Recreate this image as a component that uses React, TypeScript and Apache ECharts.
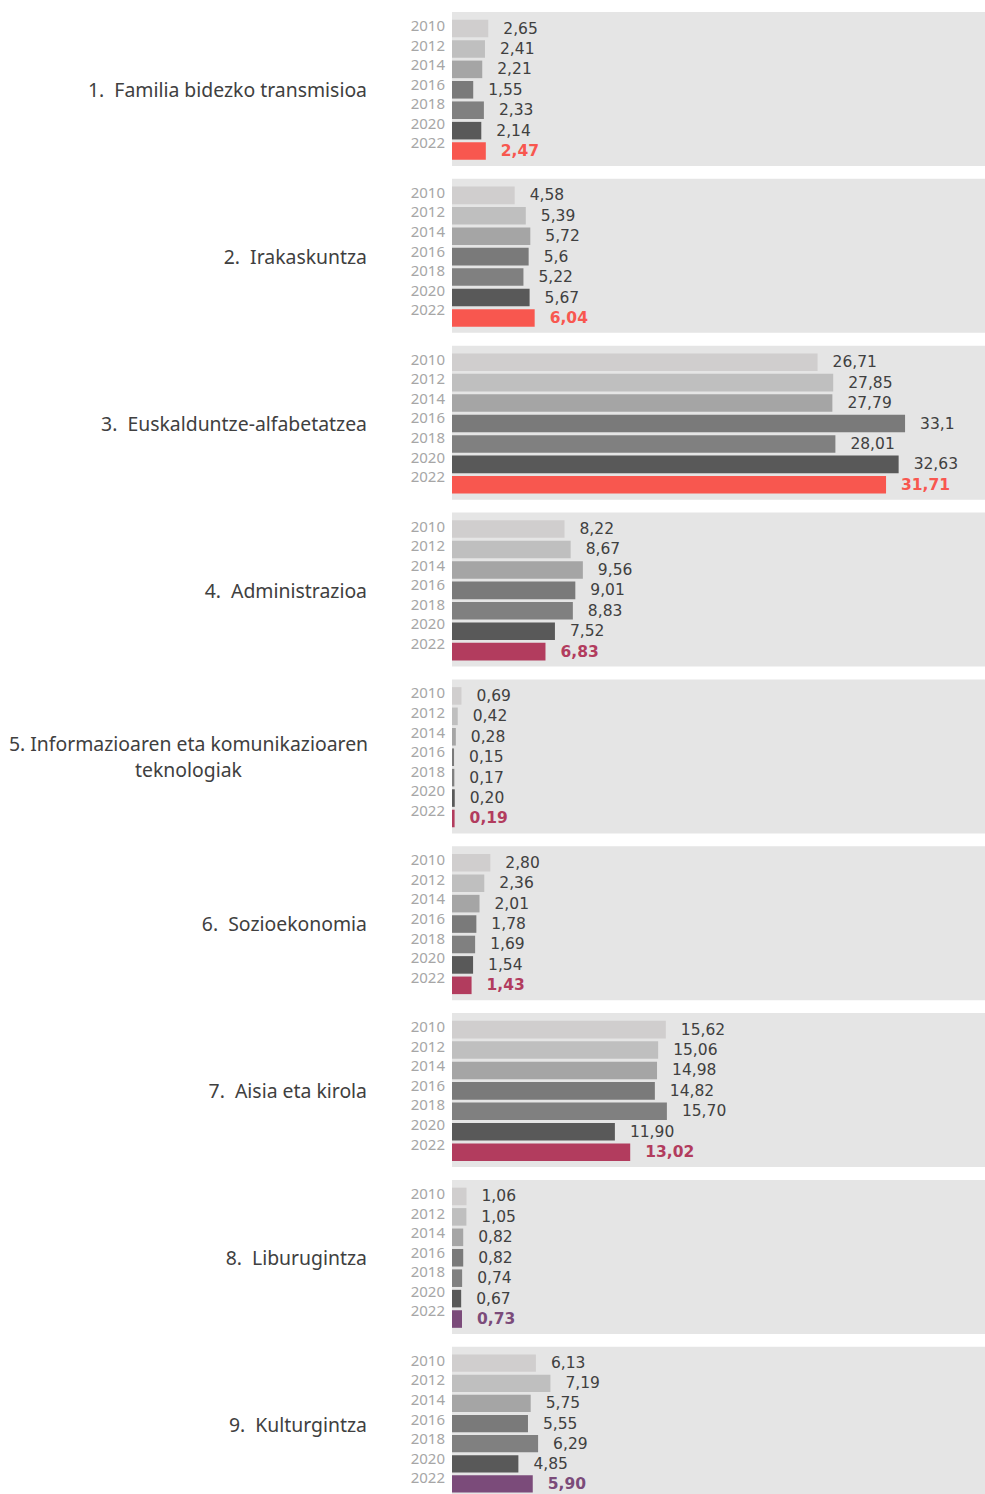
import React, { useEffect, useRef } from "react";
import * as echarts from "echarts";

const years = ["2010", "2012", "2014", "2016", "2018", "2020", "2022"];

const categories = [
  "1.  Familia bidezko transmisioa",
  "2.  Irakaskuntza",
  "3.  Euskalduntze-alfabetatzea",
  "4.  Administrazioa",
  "5. Informazioaren eta komunikazioaren\nteknologiak",
  "6.  Sozioekonomia",
  "7.  Aisia eta kirola",
  "8.  Liburugintza",
  "9.  Kulturgintza",
];

const familia = ["2,65", "2,41", "2,21", "1,55", "2,33", "2,14", "2,47"];
const irakaskuntza = ["4,58", "5,39", "5,72", "5,6", "5,22", "5,67", "6,04"];
const euskalduntze = ["26,71", "27,85", "27,79", "33,1", "28,01", "32,63", "31,71"];
const administrazioa = ["8,22", "8,67", "9,56", "9,01", "8,83", "7,52", "6,83"];
const ikt = ["0,69", "0,42", "0,28", "0,15", "0,17", "0,20", "0,19"];
const sozioekonomia = ["2,80", "2,36", "2,01", "1,78", "1,69", "1,54", "1,43"];
const aisia = ["15,62", "15,06", "14,98", "14,82", "15,70", "11,90", "13,02"];
const liburugintza = ["1,06", "1,05", "0,82", "0,82", "0,74", "0,67", "0,73"];
const kulturgintza = ["6,13", "7,19", "5,75", "5,55", "6,29", "4,85", "5,90"];

const panels = [
  familia,
  irakaskuntza,
  euskalduntze,
  administrazioa,
  ikt,
  sozioekonomia,
  aisia,
  liburugintza,
  kulturgintza,
];

const yearColors = ["#d0cece", "#bfbfbf", "#a5a5a5", "#7a7a7a", "#808080", "#595959"];
const highlightColors = [
  "#f8574f",
  "#f8574f",
  "#f8574f",
  "#b23c5e",
  "#b23c5e",
  "#b23c5e",
  "#b23c5e",
  "#7b4b7a",
  "#7b4b7a",
];

const toNum = (s: string) => parseFloat(s.replace(",", "."));

export default function App() {
  const ref = useRef<HTMLDivElement>(null);

  useEffect(() => {
    if (!ref.current) return;
    const chart = echarts.init(ref.current, undefined, { renderer: "svg" });

    const PANEL_TOP0 = 12;
    const PANEL_STEP = 166.85;
    const PANEL_H = 154;
    const LEFT = 452;
    const WIDTH = 533;

    const grids: any[] = [];
    const xAxes: any[] = [];
    const yAxes: any[] = [];
    const series: any[] = [];
    const graphics: any[] = [];

    panels.forEach((vals, i) => {
      const top = PANEL_TOP0 + i * PANEL_STEP;
      // bar grid
      grids.push({ left: LEFT, width: WIDTH, top: top + 6.3, height: 143, containLabel: false });
      // year label grid
      grids.push({ left: LEFT, width: 1, top: top + 3.2, height: 137, containLabel: false });

      xAxes.push({
        type: "value",
        gridIndex: 2 * i,
        min: 0,
        max: 38.94,
        show: false,
      });
      xAxes.push({ type: "value", gridIndex: 2 * i + 1, show: false });

      yAxes.push({
        type: "category",
        gridIndex: 2 * i,
        data: years,
        inverse: true,
        axisLine: { show: false },
        axisTick: { show: false },
        axisLabel: { show: false },
      });
      yAxes.push({
        type: "category",
        gridIndex: 2 * i + 1,
        data: years,
        inverse: true,
        axisLine: { show: false },
        axisTick: { show: false },
        axisLabel: {
          show: true,
          margin: 7,
          color: "#a6a6a6",
          fontSize: 15,
          lineHeight: 18,
          fontFamily: "Noto Sans",
        },
      });

      series.push({
        type: "bar",
        xAxisIndex: 2 * i,
        yAxisIndex: 2 * i,
        barCategoryGap: "14%",
        data: vals.map((s, j) => {
          const last = j === vals.length - 1;
          const color = last ? highlightColors[i] : yearColors[j];
          return {
            value: toNum(s),
            itemStyle: { color },
            label: {
              show: true,
              position: "right",
              distance: 15,
              formatter: s,
              color: last ? highlightColors[i] : "#404040",
              fontWeight: last ? "bold" : "normal",
              fontSize: 15.5,
              lineHeight: 18,
              fontFamily: "DejaVu Sans",
            },
          };
        }),
      });

      graphics.push({
        type: "rect",
        z: -10,
        shape: { x: LEFT, y: top, width: WIDTH, height: PANEL_H },
        style: { fill: "#e5e5e5" },
        silent: true,
      });

      const multi = categories[i].includes("\n");
      graphics.push({
        type: "text",
        x: multi ? 188.5 : 367,
        y: top + PANEL_H / 2 + 0.5,
        style: {
          text: categories[i],
          textAlign: multi ? "center" : "right",
          textVerticalAlign: "middle",
          fill: "#404040",
          fontSize: 19.4,
          lineHeight: 26,
          fontFamily: "Noto Sans",
        },
      });
    });

    chart.setOption({
      animation: false,
      backgroundColor: "#ffffff",
      grid: grids,
      xAxis: xAxes,
      yAxis: yAxes,
      series,
      graphic: graphics,
    });

    return () => chart.dispose();
  }, []);

  return (
    <div
      ref={ref}
      style={{ position: "absolute", left: 0, top: 0, width: 985, height: 1494 }}
    />
  );
}
